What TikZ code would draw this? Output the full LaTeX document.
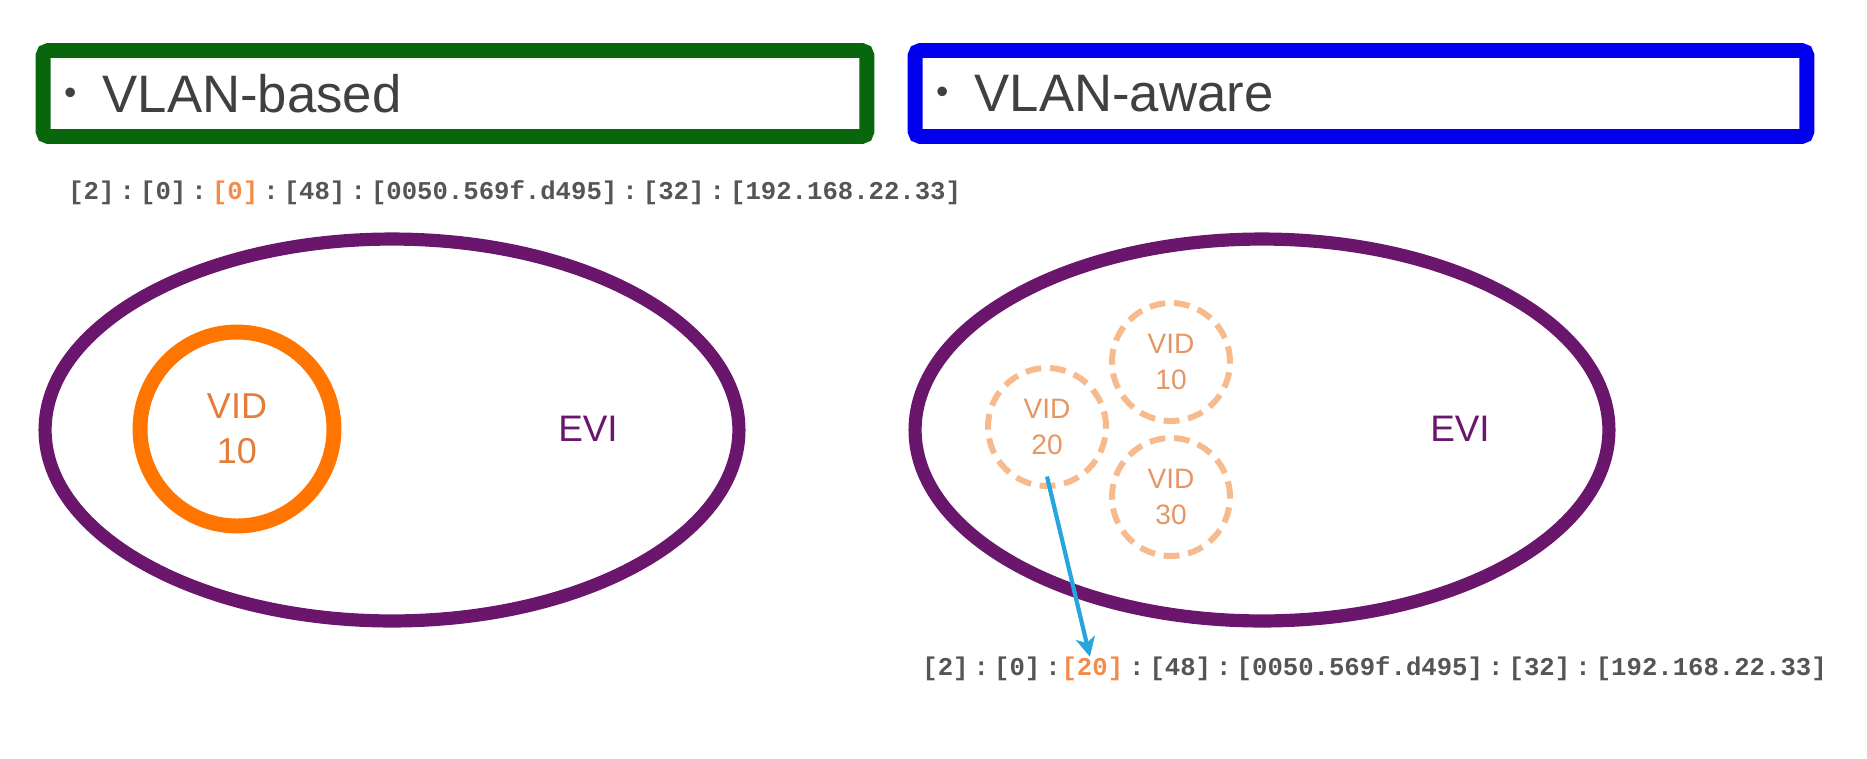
\documentclass[tikz,border=0pt]{standalone}
\usepackage{fontspec}
\setmainfont{Liberation Sans}
\newfontfamily\addrfont{Liberation Mono}
\usetikzlibrary{positioning,shapes.geometric,arrows.meta}
\definecolor{basedgreen}{RGB}{8,102,12}
\definecolor{awareblue}{RGB}{0,0,238}
\definecolor{evipurple}{RGB}{106,22,108}
\definecolor{vidorange}{RGB}{255,117,0}
\definecolor{vidtext}{RGB}{228,124,58}
\definecolor{vidlight}{RGB}{246,186,140}
\definecolor{vidlighttext}{RGB}{228,150,100}
\definecolor{addrgray}{RGB}{85,85,85}
\definecolor{addrorange}{RGB}{242,140,75}
\definecolor{arrowblue}{RGB}{38,165,222}
\newcommand\cln{\hspace{0.2em}:\hspace{0.2em}}
\newcommand\blt{{\fontsize{20}{20}\selectfont\raisebox{0.22em}{•}}\hspace{0.5em}}

\begin{document}
\begin{tikzpicture}[x=0.02cm,y=-0.02cm]
\tikzset{typebox/.style={draw=#1, line width=8.5pt, rounded corners=3pt, minimum height=1.72cm, inner xsep=0.42cm, align=left, text=black!75, font=\fontsize{30}{36}\selectfont},
evi/.style={draw=evipurple, ellipse, line width=7.5pt, minimum width=13.88cm, minimum height=7.64cm, inner sep=0pt},
evilabel/.style={text=evipurple, font=\fontsize{21}{25}\selectfont},
vidsolid/.style={draw=vidorange, circle, line width=8.5pt, minimum size=3.88cm, inner sep=0pt, align=center, text=vidtext, font=\fontsize{20.5}{25.6}\selectfont},
viddash/.style={draw=vidlight, circle, line width=3.4pt, dash pattern=on 9pt off 5pt, minimum size=2.36cm, inner sep=0pt, align=center, text=vidlighttext, font=\fontsize{16}{20.5}\selectfont},
addr/.style={inner sep=0pt, text=addrgray, font=\addrfont\bfseries\fontsize{14.6}{17}\selectfont},
vidarrow/.style={draw=arrowblue, line width=2.4pt, -{Stealth[length=11pt, width=11pt, inset=3pt]}}}
\useasboundingbox (0,0) rectangle (1867,758);
\node[typebox=basedgreen, text width=15.64cm] (based) at (455,93.5) {\blt VLAN-based};
\node[typebox=awareblue, text width=17cm] (aware) at (1361,93.5) {\blt VLAN-aware};
\node[addr, anchor=west] (addrbased) at (68,193) {[2]\cln[0]\cln\textcolor{addrorange}{[0]}\cln[48]\cln[0050.569f.d495]\cln[32]\cln[192.168.22.33]};
% VLAN-based
\node[evi] (evibased) at (392,430) {};
\node[evilabel] (evibasedlbl) at (588,429) {EVI};
\node[vidsolid] (vid10a) at (237,429) {VID\\10};
% VLAN-aware
\node[evi] (eviaware) at (1262,430) {};
\node[evilabel] (eviawarelbl) at (1460,429) {EVI};
\node[viddash] (vid20) at (1047,427) {VID\\20};
\node[viddash] (vid10b) at (1171,362) {VID\\10};
\node[viddash] (vid30) at (1171,497) {VID\\30};
\node[addr, anchor=west] (addrleft) at (922,669) {[2]\cln[0]\cln};
\node[addr, text=addrorange, base right=0pt of addrleft] (addr20) {[20]};
\node[addr, base right=0pt of addr20] (addrright) {\cln[48]\cln[0050.569f.d495]\cln[32]\cln[192.168.22.33]};
\draw[vidarrow] ([yshift=0.25cm]vid20.south) -- ([xshift=-0.05cm]addr20.north);
\end{tikzpicture}
\end{document}
